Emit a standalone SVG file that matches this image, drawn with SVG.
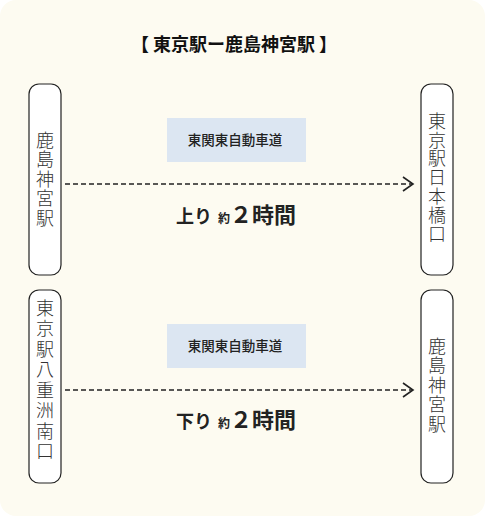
<svg xmlns="http://www.w3.org/2000/svg" width="485" height="516" viewBox="0 0 485 516">
<style>
.node{fill:#ffffff;stroke:#222222;stroke-width:1.2}
.vt{font-family:"Noto Sans CJK JP","Noto Sans",sans-serif;font-size:18px;font-weight:300;fill:#333333;writing-mode:vertical-rl;text-orientation:upright}
.hw{fill:#dce6f2}
.hwt{font-family:"Noto Sans CJK JP","Noto Sans",sans-serif;font-size:13.5px;font-weight:500;fill:#222222;text-anchor:middle}
.tm{font-family:"Noto Sans CJK JP","Noto Sans",sans-serif;font-weight:700;fill:#222222}
.conn{fill:none;stroke:#222222;stroke-width:1.5;stroke-dasharray:5 3}
.title{font-family:"Noto Sans CJK JP","Noto Sans",sans-serif;font-size:18px;font-weight:700;fill:#111111;text-anchor:middle}
</style>
<defs>
<marker id="arr" markerWidth="14" markerHeight="16" refX="11" refY="8" orient="auto" markerUnits="userSpaceOnUse">
<path d="M1,1 L11,8 L1,15" fill="none" stroke="#222222" stroke-width="1.6"/>
</marker>
</defs>
<rect x="0" y="0" width="485" height="516" rx="16" fill="#fdfbf1"/>
<text class="title" x="234" y="51">【 東京駅ー鹿島神宮駅 】</text>

<g id="connectors">
<line class="conn" x1="65" y1="184" x2="413" y2="184" marker-end="url(#arr)"/>
<line class="conn" x1="65" y1="390" x2="413" y2="390" marker-end="url(#arr)"/>
</g>

<g id="node-kashima1">
<rect class="node" x="29" y="84" width="32" height="191" rx="10"/>
<text class="vt" x="45" y="131" letter-spacing="1.5">鹿島神宮駅</text>
</g>

<g id="node-nihonbashi">
<rect class="node" x="421" y="84" width="32" height="191" rx="10"/>
<text class="vt" x="437" y="112" letter-spacing="0.8">東京駅日本橋口</text>
</g>

<g id="node-yaesu">
<rect class="node" x="29" y="290" width="32" height="193" rx="10"/>
<text class="vt" x="45" y="299" letter-spacing="2.5">東京駅八重洲南口</text>
</g>

<g id="node-kashima2">
<rect class="node" x="421" y="290" width="32" height="193" rx="10"/>
<text class="vt" x="437" y="337" letter-spacing="1.5">鹿島神宮駅</text>
</g>

<g id="label-up">
<rect class="hw" x="167" y="118" width="139" height="44"/>
<text class="hwt" x="235" y="145">東関東自動車道</text>
<text class="tm" x="176" y="223"><tspan font-size="18">上り</tspan><tspan x="218" font-size="12">約</tspan><tspan x="230" font-size="22">２時間</tspan></text>
</g>

<g id="label-down">
<rect class="hw" x="167" y="324" width="139" height="44"/>
<text class="hwt" x="235" y="351">東関東自動車道</text>
<text class="tm" x="176" y="428"><tspan font-size="18">下り</tspan><tspan x="218" font-size="12">約</tspan><tspan x="230" font-size="22">２時間</tspan></text>
</g>
</svg>
